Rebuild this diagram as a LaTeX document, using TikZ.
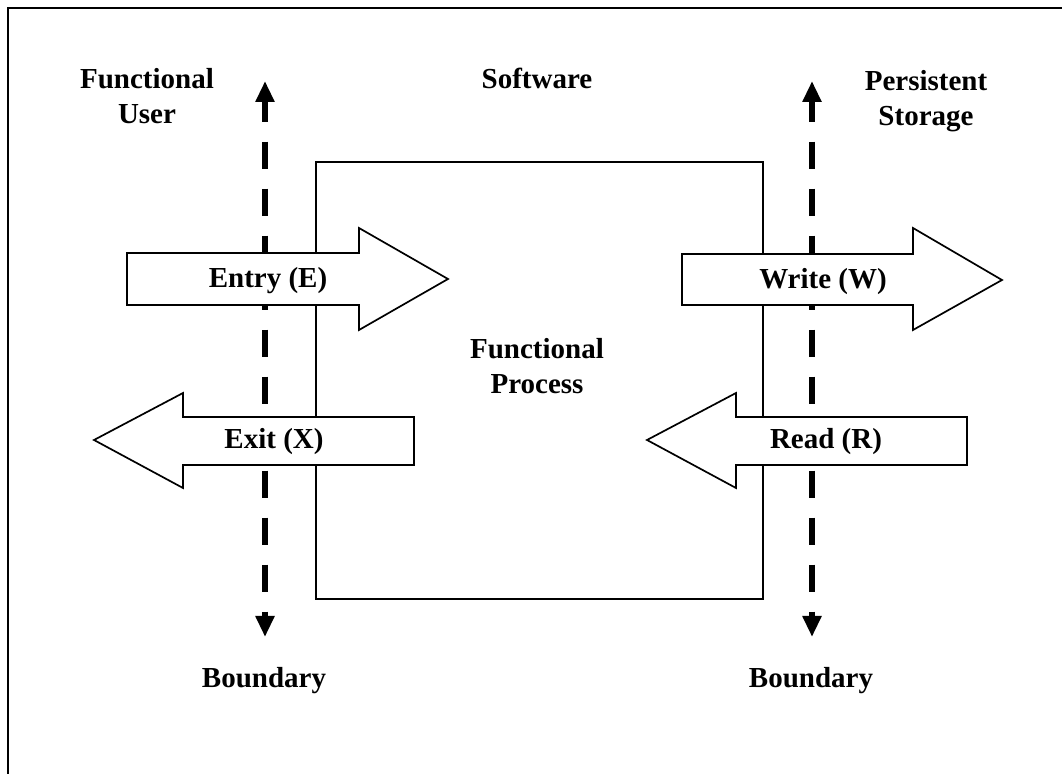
\documentclass[tikz,border=0pt]{standalone}
\usepackage{fontspec}
\setmainfont{Liberation Serif}
\usetikzlibrary{arrows.meta}

\begin{document}
\begin{tikzpicture}[
  x=0.5pt, y=-0.5pt,
  txt/.style={font=\bfseries\fontsize{14.5}{17.5}\selectfont, align=center, inner sep=0pt},
  bound/.style={line width=3.2pt, dash pattern=on 13.5pt off 10pt, dash phase=3pt,
    {Triangle[length=10.5pt,width=9pt]}-{Triangle[length=10.5pt,width=9pt]}},
  move/.style={draw, fill=white, line width=0.85pt, line join=miter},
  proc/.style={line width=0.85pt}
]
\useasboundingbox (0,0) rectangle (1062,774);
\clip (0,0) rectangle (1062,774);

% frame, only its top and left edges are on the page
\draw [line width=1pt] (8,790) -- (8,8) -- (1080,8);

% the software itself
\draw [proc] (316,162) rectangle (763,599);
\node [txt] (fp) at (537,366) {Functional\\Process};
\node [txt] (sw) at (537,78) {Software};

% boundaries
\coordinate (ltop) at (265,81);
\coordinate (lbot) at (265,637);
\coordinate (rtop) at (812,81);
\coordinate (rbot) at (812,637);
\draw [bound] (ltop) -- (lbot);
\draw [bound] (rtop) -- (rbot);

\node [txt] (user) at (147,96) {Functional\\User};
\node [txt] (store) at (926,101) {Persistent\\Storage};
\node [txt] (lbnd) at (264,681) {Boundary};
\node [txt] (rbnd) at (811,681) {Boundary};

% data movements
\draw [move] (127,253) -- (359,253) -- (359,228) -- (448,279)
  -- (359,330) -- (359,305) -- (127,305) -- cycle;
\node [txt] (entry) at (268,281) {Entry (E)};

\draw [move] (414,417) -- (183,417) -- (183,393) -- (94,440)
  -- (183,488) -- (183,465) -- (414,465) -- cycle;
\node [txt] (exit) at (274,442) {Exit (X)};

\draw [move] (682,254) -- (913,254) -- (913,228) -- (1002,280)
  -- (913,330) -- (913,305) -- (682,305) -- cycle;
\node [txt] (write) at (823,282) {Write (W)};

\draw [move] (967,417) -- (736,417) -- (736,393) -- (647,440)
  -- (736,488) -- (736,465) -- (967,465) -- cycle;
\node [txt] (read) at (826,442) {Read (R)};
\end{tikzpicture}
\end{document}
